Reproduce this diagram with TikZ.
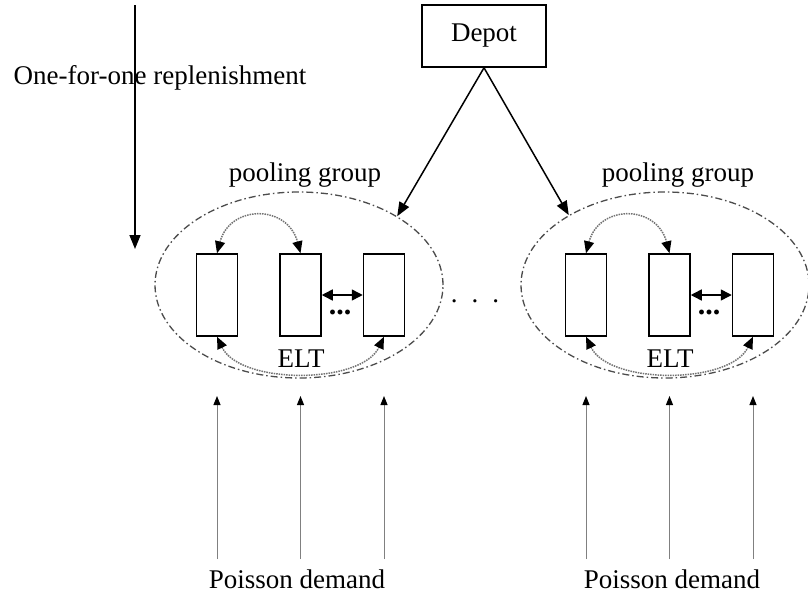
\documentclass[tikz,border=0pt]{standalone}
\usepackage{fontspec}
\setmainfont{Liberation Serif}
\usetikzlibrary{positioning, arrows.meta, shapes.geometric}

\begin{document}
\begin{tikzpicture}[
  x=1pt, y=-1pt,
  lbl/.style={font=\fontsize{27}{31}\selectfont, inner sep=0pt},
  depot/.style={draw, line width=1.5pt, minimum width=124pt, minimum height=62pt,
    font=\fontsize{27}{31}\selectfont},
  pool/.style={ellipse, draw=black!70, line width=1.3pt,
    dash pattern=on 7pt off 3pt on 1.5pt off 3pt,
    minimum width=288pt, minimum height=186pt, inner sep=0pt},
  store/.style={draw, line width=1.5pt, minimum width=41pt, minimum height=82pt, inner sep=0pt},
  supply/.style={-{Triangle[length=14pt,width=11pt]}, line width=1.5pt},
  swap/.style={{Triangle[length=12pt,width=10pt,color=black]}-{Triangle[length=12pt,width=10pt,color=black]},
    line width=1.5pt, draw=black!55, densely dotted},
  lateral/.style={{Triangle[length=11pt,width=11pt]}-{Triangle[length=11pt,width=11pt]}, line width=1.5pt},
  demand/.style={-{Triangle[length=9pt,width=7pt,color=black]}, line width=1pt, draw=black!50},
]
  \useasboundingbox (0,0) rectangle (808,597);

  % supply side
  \node[depot] (depot) at (484,36) {Depot};
  \node[lbl] (repl) at (160,78) {One-for-one replenishment};
  \coordinate (rtop) at (135,5);
  \coordinate (rbot) at (135,249);
  \draw[supply] (rtop) -- (rbot);

  % the two pooling groups
  \node[pool] (pool1) at (299,285) {};
  \node[pool] (pool2) at (665,285) {};
  \node[lbl] (pg1) at (305,175) {pooling group};
  \node[lbl] (pg2) at (678,175) {pooling group};
  \node[lbl] (gap) at (475,301) {.\hspace{14pt}.\hspace{14pt}.};

  \draw[supply] (depot.south) -- (pool1.35);
  \draw[supply] (depot.south) -- (pool2.144);

  % bases in group 1
  \node[store] (a1) at (217,295) {};
  \node[store, right=41pt of a1] (a2) {};
  \node[store, right=41pt of a2] (a3) {};
  \draw[lateral] (a2) -- (a3);
  \node[lbl, font=\fontsize{30}{34}\selectfont\bfseries] (dots1) at (340,312) {...};
  \draw[swap] (a1.north) .. controls +(13,-49) and +(-13,-49) .. (a2.north);
  \draw[swap] (a1.south) .. controls +(23,48) and +(-23,48) .. (a3.south);
  \node[lbl] (elt1) at (301,359) {ELT};

  % bases in group 2
  \node[store] (b1) at (586,295) {};
  \node[store, right=41pt of b1] (b2) {};
  \node[store, right=41pt of b2] (b3) {};
  \draw[lateral] (b2) -- (b3);
  \node[lbl, font=\fontsize{30}{34}\selectfont\bfseries] (dots2) at (709,312) {...};
  \draw[swap] (b1.north) .. controls +(13,-49) and +(-13,-49) .. (b2.north);
  \draw[swap] (b1.south) .. controls +(23,48) and +(-23,48) .. (b3.south);
  \node[lbl] (elt2) at (670,359) {ELT};

  % customer demand
  \coordinate (low) at (0,559);
  \coordinate (high) at (0,396);
  \foreach \s in {a1,a2,a3,b1,b2,b3}
    \draw[demand] (\s |- low) -- (\s |- high);
  \node[lbl] (dem1) at (297,579) {Poisson demand};
  \node[lbl] (dem2) at (672,579) {Poisson demand};
\end{tikzpicture}
\end{document}
